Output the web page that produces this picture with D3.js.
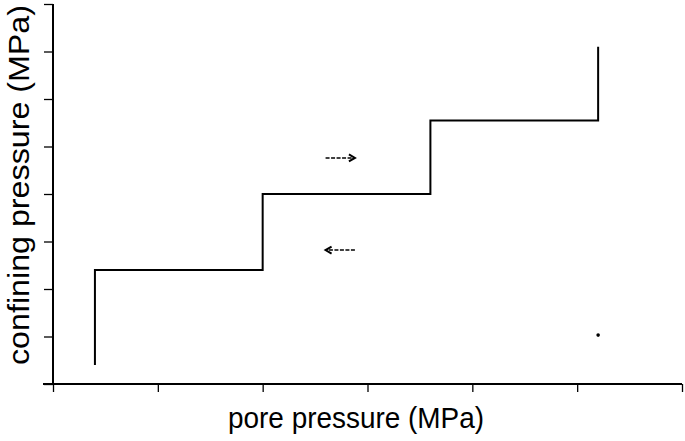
<!DOCTYPE html>
<html><head><meta charset="utf-8">
<script src="https://cdn.jsdelivr.net/npm/d3@7"></script>
<style>body{margin:0;background:#fff}svg{display:block}</style>
</head><body>
<svg id="c" width="685" height="441"></svg>
<script>
const xTicks = [0, 1, 2, 3, 4, 5, 6];
const yTicks = [0, 1, 2, 3, 4, 5, 6, 7, 8];
const stepX = [0.4, 2.0, 3.6, 5.2];
const stepY = [0.4, 2.4, 4.0, 5.55, 7.1];
const arrowRight = [2.6, 2.88, 4.76];
const arrowLeft = [2.88, 2.6, 2.82];
const dots = [[5.2, 1.03]];
const xLabel = "pore pressure (MPa)";
const yLabel = "confining pressure (MPa)";

const svg = d3.select("#c");
const x = d3.scaleLinear().domain([0, 6]).range([53, 682]);
const y = d3.scaleLinear().domain([0, 8]).range([384, 4]);

// axes
const xAxis = d3.axisBottom(x).tickValues(xTicks).tickSize(8).tickFormat("");
const gx = svg.append("g").attr("transform", "translate(0,384)").call(xAxis);
gx.select(".domain").attr("d", `M${x(0)-10},0H${x(6)}`).attr("stroke-width", 2);
gx.selectAll(".tick line").attr("stroke-width", 1.3);

const yAxis = d3.axisLeft(y).tickValues(yTicks).tickSize(9).tickFormat("");
const gy = svg.append("g").attr("transform", "translate(53,0)").call(yAxis);
gy.select(".domain").attr("d", `M0,${y(8)}V${y(0)}`).attr("stroke-width", 2);
gy.selectAll(".tick line").attr("stroke-width", 1.3);

// step line
const pts = [];
pts.push([stepX[0], stepY[0]]);
stepX.forEach((sx, i) => {
  pts.push([sx, stepY[i + 1]]);
  if (i + 1 < stepX.length) pts.push([stepX[i + 1], stepY[i + 1]]);
});
svg.append("path")
  .attr("d", d3.line().x(d => x(d[0])).y(d => y(d[1]))(pts))
  .attr("fill", "none").attr("stroke", "#000").attr("stroke-width", 2);

// arrows
function arrow(a) {
  const x0 = x(a[0]), x1 = x(a[1]), yy = y(a[2]);
  const dir = Math.sign(x1 - x0);
  svg.append("line").attr("x1", x0).attr("x2", x1 - dir * 3).attr("y1", yy).attr("y2", yy)
    .attr("stroke", "#000").attr("stroke-width", 1.5).attr("stroke-dasharray", "4,1.5");
  svg.append("path")
    .attr("d", `M${x1 - dir * 6},${yy - 3.5}L${x1},${yy}L${x1 - dir * 6},${yy + 3.5}`)
    .attr("fill", "none").attr("stroke", "#000").attr("stroke-width", 2);
}
arrow(arrowRight);
arrow(arrowLeft);

svg.selectAll("circle.d").data(dots).enter().append("circle")
  .attr("cx", d => x(d[0])).attr("cy", d => y(d[1])).attr("r", 1.8).attr("fill", "#000");

// labels
svg.append("text").attr("x", 228).attr("y", 428)
  .attr("font-family", "Liberation Sans, Arial, sans-serif").attr("font-size", 30)
  .attr("textLength", 256).attr("lengthAdjust", "spacingAndGlyphs")
  .text(xLabel);
svg.append("text").attr("transform", "translate(29,365) rotate(-90)")
  .attr("font-family", "Liberation Sans, Arial, sans-serif").attr("font-size", 30)
  .attr("textLength", 360).attr("lengthAdjust", "spacingAndGlyphs")
  .text(yLabel);
</script>
</body></html>
